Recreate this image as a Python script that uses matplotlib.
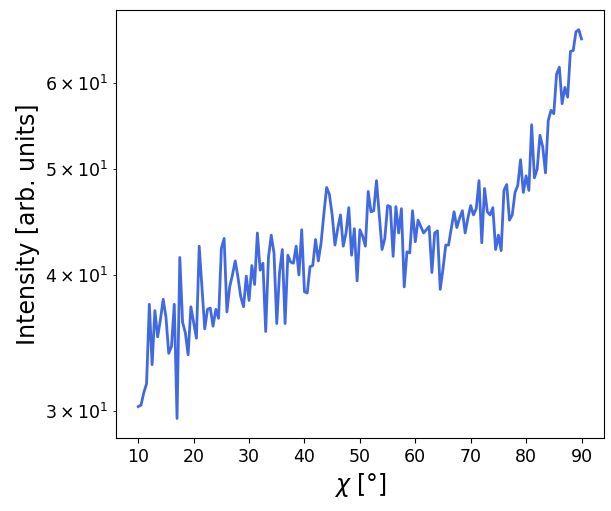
import numpy as np
import matplotlib
matplotlib.use("Agg")
import matplotlib.pyplot as plt

# chi sampled every 0.5 degree from 10 to 90
chi = np.linspace(10, 90, 161)

intensity = [
    # 10 .. 21
    30.3, 30.4, 31.2, 31.8, 37.6, 33.1, 37.1, 35.1, 36.4, 38.0, 36.6, 33.9,
    34.4, 37.6, 29.55, 41.5, 36.2, 35.4, 33.8, 37.4, 36.2, 35.0, 42.5,
    # 21.5 .. 32.5
    39.0, 35.7, 37.2, 37.3, 35.9, 37.2, 36.5, 42.3, 43.2, 37.0, 39.0, 40.0,
    41.2, 39.8, 38.2, 37.4, 39.9, 37.9, 40.8, 39.2, 43.7, 40.4, 41.0,
    # 33 .. 44
    35.5, 41.5, 43.5, 41.9, 36.1, 40.2, 42.2, 36.1, 41.7, 41.1, 41.0, 42.5,
    40.0, 44.0, 38.6, 38.5, 40.7, 40.8, 43.1, 41.2, 42.8, 45.5, 48.1,
    # 44.5 .. 55
    47.4, 45.4, 42.6, 44.1, 45.4, 42.5, 43.7, 46.1, 41.7, 44.1, 39.5, 44.0,
    43.4, 42.5, 47.7, 45.7, 45.8, 48.8, 45.4, 42.2, 43.2, 46.3,
    # 55.5 .. 66.5
    46.2, 41.6, 46.2, 43.7, 46.0, 39.0, 42.0, 41.9, 45.8, 42.9, 44.9, 44.3,
    43.7, 44.0, 44.3, 40.2, 43.7, 43.9, 38.8, 40.5, 42.6, 42.6, 44.1,
    # 67 .. 77.5
    45.7, 44.2, 45.1, 45.8, 43.7, 45.1, 46.3, 45.4, 46.0, 48.8, 42.8, 48.0,
    45.7, 45.4, 46.1, 42.2, 43.5, 42.1, 47.8, 48.4, 44.9, 45.4,
    # 78 .. 90
    47.6, 48.3, 51.0, 47.6, 49.3, 47.8, 54.9, 49.1, 50.0, 53.7, 52.4, 49.6,
    55.4, 56.6, 56.2, 61.1, 62.0, 57.4, 59.4, 58.2, 64.1, 64.2, 66.8, 67.1,
    65.8,
]

fig = plt.figure(figsize=(6.11, 5.11), dpi=100)
ax = fig.add_axes([0.19, 0.143, 0.798, 0.837])
ax.plot(chi, intensity, color="royalblue", lw=2.0)
ax.set_yscale("log")
ax.set_xlabel(r"$\chi$ [°]", fontsize=17)
ax.set_ylabel("Intensity [arb. units]", fontsize=17)
ax.tick_params(axis="both", which="both", labelsize=12.5)
ax.set_xticks([10, 20, 30, 40, 50, 60, 70, 80, 90])
fig.savefig("out.png", dpi=100)
